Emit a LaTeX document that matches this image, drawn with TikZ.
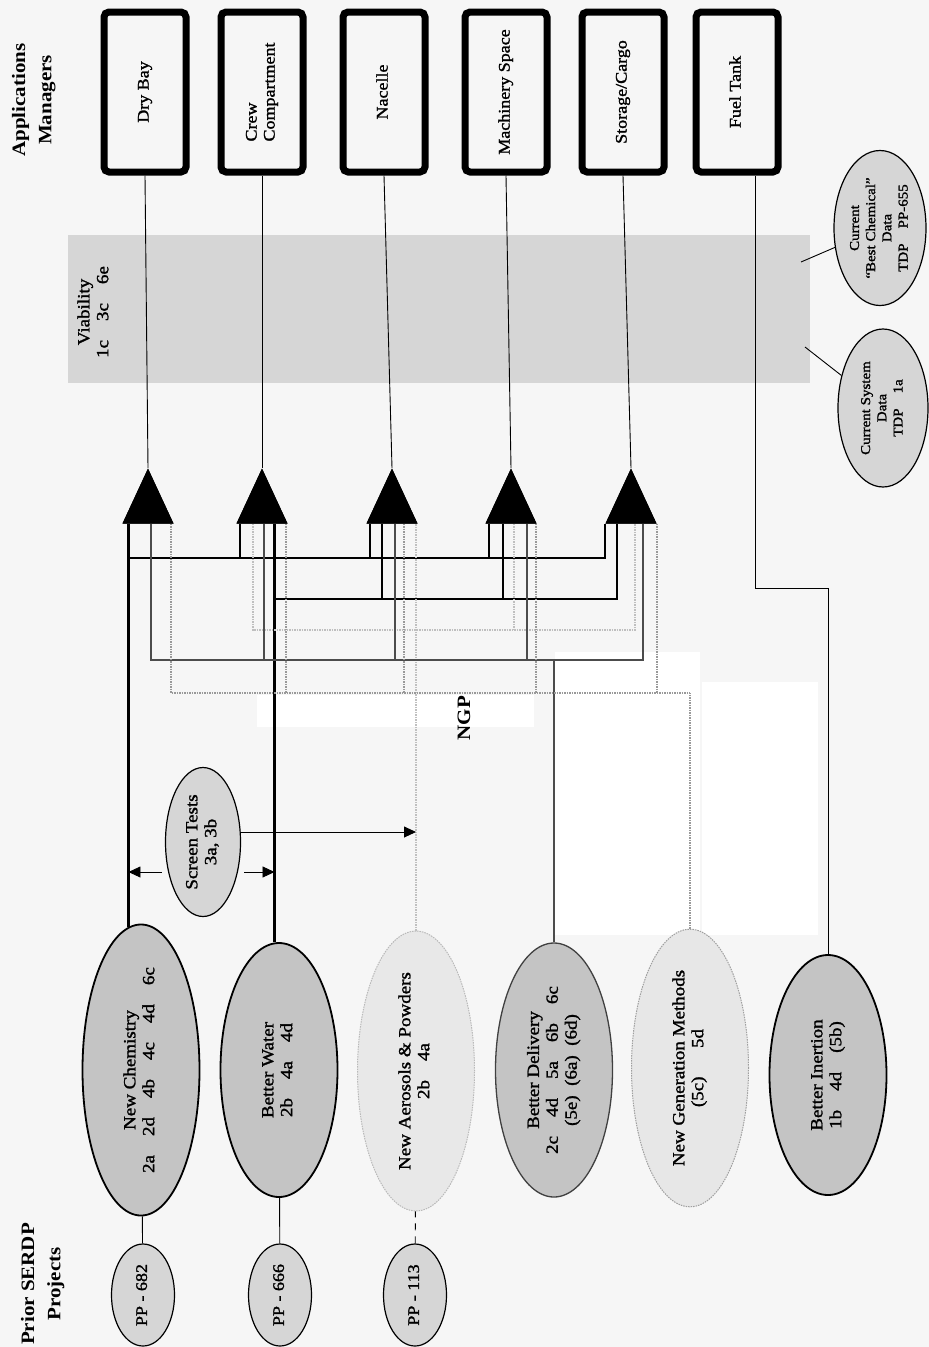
\documentclass[tikz,border=0pt]{standalone}
\usepackage{fontspec}
\setmainfont{Liberation Serif}
\newfontfamily\scanfont{Liberation Serif}[FakeBold=1.4]
\usetikzlibrary{shapes.geometric,arrows.meta,positioning}

\definecolor{paper}{gray}{0.965}
\definecolor{band}{gray}{0.84}
\definecolor{darkfill}{gray}{0.77}
\definecolor{midfill}{gray}{0.84}
\definecolor{lightfill}{gray}{0.91}

% rotated, slightly squeezed text block
\newcommand{\vtext}[2][c]{\rotatebox{90}{\scalebox{1}[0.9]{\begin{tabular}{@{}#1@{}}#2\end{tabular}}}}

\tikzset{
    >={Triangle[length=12pt,width=11pt]},
    appbox/.style={
        rectangle,
        rounded corners=5pt,
        draw=black, line width=7pt,
        fill=paper,
        minimum width=82pt,
        minimum height=160pt,
        inner sep=0pt,
        font={\scanfont\fontsize{18pt}{20pt}\selectfont}
    },
    project/.style={
        ellipse,
        draw=black, line width=1.8pt,
        fill=darkfill,
        minimum width=117pt,
        minimum height=254pt,
        inner sep=0pt,
        font={\scanfont\fontsize{19pt}{21pt}\selectfont}
    },
    faint/.style={draw=gray!55, line width=1pt, dash pattern=on 1.5pt off 1pt, fill=lightfill},
    prior/.style={
        ellipse,
        draw=black, line width=1.2pt,
        fill=midfill,
        minimum width=63pt,
        minimum height=102pt,
        inner sep=0pt,
        font={\scanfont\fontsize{18pt}{22pt}\selectfont}
    },
    datanode/.style={prior, minimum width=90pt, minimum height=158pt,
        font={\scanfont\fontsize{15pt}{18pt}\selectfont}},
    heading/.style={inner sep=0pt, font={\bfseries\fontsize{21pt}{29pt}\selectfont}},
    bandlabel/.style={inner sep=0pt, font={\scanfont\fontsize{19pt}{21pt}\selectfont}},
    tri/.style={isosceles triangle, isosceles triangle stretches, rotate=90,
        minimum width=51pt, minimum height=55pt, inner sep=0pt,
        fill=black, anchor=apex},
    feed/.style={draw, line width=0.9pt},
    heavybus/.style={draw, line width=2.4pt},
    darkbus/.style={draw=black!70, line width=1.4pt},
    dotbus/.style={draw=gray!80, line width=1.4pt, dash pattern=on 1.5pt off 1pt},
    palebus/.style={draw=gray!50, line width=1.4pt, dash pattern=on 1.5pt off 1pt},
}

\begin{document}
\begin{tikzpicture}[x=1pt, y=-1pt]

\useasboundingbox[fill=paper] (0,0) rectangle (929,1347);

% cleaned areas of the sheet
\fill[white] (257,695) rectangle (534,727);
\fill[white] (555,652) rectangle (700,935);
\fill[white] (702,682) rectangle (818,935);

% viability band
\fill[band] (68,235) rectangle (810,383);
\node[bandlabel] (viab) at (95,312) {\vtext{Viability\\1c\quad 3c\quad 6e}};

\node[heading] (apps) at (33,100) {\vtext{Applications\\Managers}};
\node[heading] (ngp) at (465,718) {\vtext{NGP}};
\node[heading] (serdp) at (42,1284) {\vtext{Prior SERDP\\Projects}};

% applications
\foreach \n/\x/\t in {dry/145/Dry Bay, nac/384/Nacelle, mach/506/Machinery Space,
    stor/623/{Storage/Cargo}, fuel/737/Fuel Tank}
  \node[appbox] (\n) at (\x,92) {\vtext{\t}};
\node[appbox] (crew) at (262,92) {\vtext[l]{Crew\\Compartment}};

% NGP thrusts
\node[project] (chem) at (141,1070)
  {\vtext{New Chemistry\\2a\quad 2d\quad 4b\quad 4c\quad 4d\quad 6c}};
\node[project] (water) at (279,1070) {\vtext{Better Water\\2b\quad 4a\quad 4d}};
\node[project, faint, minimum height=244pt] (aero) at (416,1071)
  {\vtext{New Aerosols \& Powders\\2b\quad 4a}};
\node[project, draw=black!75, line width=1.3pt] (deliv) at (554,1070)
  {\vtext{Better Delivery\\2c\quad 4d\quad 5a\quad 6b\quad 6c\\(5e)\enspace(6a)\enspace(6d)}};
\node[project, faint, draw=gray!75, fill=midfill!60!white] (newgen) at (690,1068)
  {\vtext{New Generation Methods\\(5c)\quad\enspace 5d}};
\node[project, minimum height=240pt] (inert) at (828,1075)
  {\vtext{Better Inertion\\1b\quad 4d\quad (5b)}};

% prior projects
\foreach \n/\x/\t in {pp682/143/682, pp666/280/666, pp113/415/113}
  \node[prior] (\n) at (\x,1295) {\vtext{PP - \t}};

\draw[feed] (pp682) -- (chem);
\draw[feed] (pp666) -- (water);
\draw[feed, dash pattern=on 7pt off 6pt] (pp113) -- (aero);

\node[prior, minimum width=75pt, minimum height=149pt,
  font={\scanfont\fontsize{19pt}{21pt}\selectfont}] (screen) at (203,842)
  {\vtext{Screen Tests\\3a, 3b}};

% existing data
\node[datanode] (cursys) at (883,408) {\vtext{Current System\\Data\\TDP\quad 1a}};
\node[datanode, minimum width=92pt, minimum height=155pt] (bestchem) at (880,228)
  {\vtext{Current\\“Best Chemical”\\Data\\TDP\quad PP-655}};
\coordinate (cursyspt) at (805,347);
\coordinate (bestpt) at (801,262);
\draw[feed] (cursys) -- (cursyspt);
\draw[feed] (bestchem) -- (bestpt);

% collectors
\foreach \n/\x in {1/148, 2/262, 3/392, 4/511, 5/631}
  \node[tri] (tri\n) at (\x,468) {};

\foreach \b [count=\i] in {dry, crew, nac, mach, stor}
  \draw[feed] (\b.south) -- (tri\i.apex);

\coordinate (busA) at (0,558);
\coordinate (busB) at (0,599);
\coordinate (busC) at (0,630);
\coordinate (busD) at (0,660);
\coordinate (busE) at (0,693);

% new chemistry
\draw[heavybus] (chem.95) -- (chem.95 |- tri1.lower side);
\draw[heavybus] (chem.95 |- busA) -| ([xshift=-26pt]tri5.lower side);
\foreach \t in {2,3,4}
  \draw[heavybus] ([xshift=-22pt]tri\t.lower side) -- ([xshift=-22pt]tri\t.lower side |- busA);

% better water
\draw[heavybus] (water.92) -- (water.92 |- tri2.lower side);
\draw[heavybus] (water.92 |- busB) -| ([xshift=-14pt]tri5.lower side);
\foreach \t/\dx in {3/-10, 4/-8}
  \draw[heavybus] ([xshift=\dx pt]tri\t.lower side) -- ([xshift=\dx pt]tri\t.lower side |- busB);

% aerosols and powders
\draw[palebus] (aero.north) -- (aero.north |- tri3.lower side);
\draw[palebus] ([xshift=-9pt]tri2.lower side) |- ([xshift=4pt]tri5.lower side |- busC)
  -- ([xshift=4pt]tri5.lower side);
\draw[palebus] ([xshift=3pt]tri4.lower side) -- ([xshift=3pt]tri4.lower side |- busC);

% better delivery
\draw[darkbus] (deliv.north) -- (deliv.north |- busD);
\draw[darkbus] ([xshift=3pt]tri1.lower side) |- ([xshift=12pt]tri5.lower side |- busD)
  -- ([xshift=12pt]tri5.lower side);
\foreach \t/\dx in {2/2, 3/3, 4/16}
  \draw[darkbus] ([xshift=\dx pt]tri\t.lower side) -- ([xshift=\dx pt]tri\t.lower side |- busD);

% new generation methods
\draw[dotbus] (newgen.north) -- (newgen.north |- busE);
\draw[dotbus] ([xshift=23pt]tri1.lower side) |- (newgen.north |- busE);
\foreach \t/\dx in {2/24, 3/12, 4/25, 5/26}
  \draw[dotbus] ([xshift=\dx pt]tri\t.lower side) -- ([xshift=\dx pt]tri\t.lower side |- busE);

% better inertion
\coordinate (fuelbend) at (755,588);
\draw[feed] (inert.north) |- (fuelbend) -- (fuelbend |- fuel.south);

% screen tests
\coordinate (scrlow) at (0,872);
\coordinate (scrhigh) at (0,832);
\draw[feed, ->] ([xshift=-3pt]screen.west |- scrlow) -- (chem.95 |- scrlow);
\draw[feed, ->] ([xshift=3pt]screen.east |- scrlow) -- (water.92 |- scrlow);
\draw[feed, ->] (screen.east |- scrhigh) -- (aero.north |- scrhigh);

% triangles on top of the line ends
\foreach \n/\x in {1/148, 2/262, 3/392, 4/511, 5/631}
  \node[tri] at (\x,468) {};

\end{tikzpicture}
\end{document}
